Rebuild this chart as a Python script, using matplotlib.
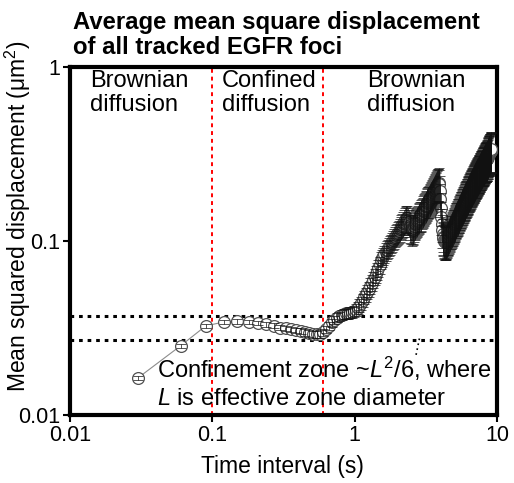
import numpy as np
import matplotlib
matplotlib.use("Agg")
import matplotlib.pyplot as plt

plt.rcParams['font.family'] = ['Liberation Sans', 'DejaVu Sans']
plt.rcParams['mathtext.fontset'] = 'custom'
plt.rcParams['mathtext.rm'] = 'Liberation Sans'
plt.rcParams['mathtext.it'] = 'Liberation Sans:italic'
plt.rcParams['mathtext.bf'] = 'Liberation Sans:bold'

# frame interval of the tracking (s)
frame_time = 0.03

# mean MSD (um^2) per lag, one row = 10 frames (0.3 s)
msd = [
    0.0163, 0.0250, 0.0325, 0.0342, 0.0345, 0.0343, 0.0338, 0.0332, 0.0325, 0.0318,
    0.0314, 0.0310, 0.0306, 0.0302, 0.0298, 0.0294, 0.0291, 0.0290, 0.0292, 0.0298,
    0.0310, 0.0325, 0.0340, 0.0352, 0.0362, 0.0370, 0.0376, 0.0380, 0.0383, 0.0385,
    0.0387, 0.0390, 0.0395, 0.0402, 0.0412, 0.0425, 0.0440, 0.0457, 0.0475, 0.0493,
    0.0512, 0.0532, 0.0553, 0.0575, 0.0598, 0.0622, 0.0647, 0.0672, 0.0698, 0.0725,
    0.0778, 0.0800, 0.0822, 0.0845, 0.0868, 0.0890, 0.0910, 0.0928, 0.0948, 0.0968,
    0.0990, 0.1012, 0.1035, 0.1060, 0.1082, 0.1100, 0.1118, 0.1140, 0.1165, 0.1190,
    0.1215, 0.1240, 0.1262, 0.1290, 0.1320, 0.1345, 0.1360, 0.1350, 0.1320, 0.1280,
    0.1240, 0.1200, 0.1170, 0.1150, 0.1160, 0.1185, 0.1215, 0.1245, 0.1270, 0.1290,
    0.1305, 0.1320, 0.1340, 0.1365, 0.1385, 0.1400, 0.1410, 0.1430, 0.1455, 0.1480,
    0.1505, 0.1530, 0.1555, 0.1580, 0.1600, 0.1620, 0.1645, 0.1670, 0.1690, 0.1705,
    0.1720, 0.1740, 0.1765, 0.1790, 0.1815, 0.1840, 0.1865, 0.1890, 0.1915, 0.1940,
    0.1965, 0.1990, 0.2015, 0.2040, 0.2065, 0.2090, 0.2110, 0.2130, 0.2150, 0.2160,
    0.2120, 0.1950, 0.1750, 0.1550, 0.1380, 0.1250, 0.1160, 0.1100, 0.1060, 0.1040,
    0.1020, 0.1005, 0.0995, 0.0990, 0.0992, 0.1000, 0.1010, 0.1022, 0.1035, 0.1048,
    0.1060, 0.1072, 0.1085, 0.1098, 0.1110, 0.1122, 0.1135, 0.1148, 0.1162, 0.1175,
    0.1188, 0.1200, 0.1212, 0.1225, 0.1238, 0.1250, 0.1265, 0.1280, 0.1295, 0.1310,
    0.1325, 0.1340, 0.1355, 0.1368, 0.1380, 0.1395, 0.1410, 0.1425, 0.1440, 0.1455,
    0.1470, 0.1485, 0.1500, 0.1515, 0.1530, 0.1545, 0.1560, 0.1575, 0.1590, 0.1605,
    0.1620, 0.1635, 0.1650, 0.1665, 0.1680, 0.1695, 0.1710, 0.1725, 0.1740, 0.1755,
    0.1770, 0.1785, 0.1800, 0.1815, 0.1830, 0.1845, 0.1860, 0.1875, 0.1890, 0.1905,
    0.1920, 0.1935, 0.1950, 0.1965, 0.1980, 0.1995, 0.2010, 0.2025, 0.2040, 0.2055,
    0.2070, 0.2085, 0.2100, 0.2115, 0.2130, 0.2145, 0.2160, 0.2175, 0.2190, 0.2205,
    0.2220, 0.2235, 0.2250, 0.2265, 0.2280, 0.2295, 0.2310, 0.2325, 0.2340, 0.2355,
    0.2370, 0.2385, 0.2400, 0.2415, 0.2430, 0.2445, 0.2460, 0.2475, 0.2490, 0.2505,
    0.2520, 0.2535, 0.2550, 0.2565, 0.2580, 0.2595, 0.2610, 0.2625, 0.2640, 0.2655,
    0.2670, 0.2690, 0.2710, 0.2730, 0.2745, 0.2760, 0.2770, 0.2780, 0.2790, 0.2800,
    0.2815, 0.2830, 0.2850, 0.2870, 0.2890, 0.2905, 0.2920, 0.2930, 0.2935, 0.2940,
    0.2950, 0.2965, 0.2980, 0.3000, 0.3020, 0.3045, 0.3070, 0.3095, 0.3120, 0.3140,
    0.3160, 0.3180, 0.3200, 0.3215, 0.3230, 0.3245, 0.3260, 0.3275, 0.3290, 0.3305,
    0.3320, 0.3335, 0.3350, 0.3360,
]

# standard error of the mean (um^2)
sem = [
    0.0005, 0.0007, 0.0009, 0.0010, 0.0010, 0.0010, 0.0010, 0.0010, 0.0011, 0.0011,
    0.0011, 0.0011, 0.0012, 0.0012, 0.0012, 0.0013, 0.0013, 0.0014, 0.0014, 0.0015,
    0.0016, 0.0017, 0.0018, 0.0019, 0.0021, 0.0022, 0.0024, 0.0025, 0.0026, 0.0027,
    0.0028, 0.0029, 0.0030, 0.0032, 0.0034, 0.0036, 0.0038, 0.0040, 0.0043, 0.0046,
    0.0050, 0.0053, 0.0057, 0.0060, 0.0064, 0.0067, 0.0070, 0.0074, 0.0078, 0.0082,
    0.0086, 0.0090, 0.0093, 0.0097, 0.0100, 0.0104, 0.0107, 0.0110, 0.0114, 0.0117,
    0.0125, 0.0130, 0.0136, 0.0142, 0.0148, 0.0154, 0.0160, 0.0166, 0.0172, 0.0178,
    0.0190, 0.0198, 0.0205, 0.0213, 0.0222, 0.0230, 0.0236, 0.0238, 0.0236, 0.0232,
    0.0226, 0.0220, 0.0215, 0.0212, 0.0215, 0.0221, 0.0228, 0.0235, 0.0241, 0.0246,
    0.0250, 0.0254, 0.0259, 0.0265, 0.0270, 0.0274, 0.0277, 0.0282, 0.0288, 0.0294,
    0.0301, 0.0307, 0.0313, 0.0319, 0.0324, 0.0329, 0.0335, 0.0341, 0.0346, 0.0350,
    0.0355, 0.0360, 0.0366, 0.0372, 0.0378, 0.0384, 0.0390, 0.0396, 0.0402, 0.0408,
    0.0414, 0.0420, 0.0426, 0.0432, 0.0438, 0.0444, 0.0449, 0.0454, 0.0458, 0.0461,
    0.0452, 0.0416, 0.0374, 0.0331, 0.0295, 0.0268, 0.0249, 0.0236, 0.0228, 0.0224,
    0.0220, 0.0217, 0.0215, 0.0214, 0.0215, 0.0217, 0.0220, 0.0223, 0.0226, 0.0229,
    0.0233, 0.0236, 0.0239, 0.0242, 0.0245, 0.0248, 0.0251, 0.0254, 0.0258, 0.0261,
    0.0264, 0.0267, 0.0270, 0.0273, 0.0277, 0.0280, 0.0284, 0.0288, 0.0292, 0.0296,
    0.0300, 0.0304, 0.0308, 0.0312, 0.0316, 0.0320, 0.0324, 0.0328, 0.0332, 0.0336,
    0.0340, 0.0344, 0.0348, 0.0352, 0.0356, 0.0360, 0.0364, 0.0368, 0.0372, 0.0376,
    0.0380, 0.0384, 0.0388, 0.0392, 0.0396, 0.0400, 0.0404, 0.0408, 0.0412, 0.0416,
    0.0420, 0.0424, 0.0428, 0.0432, 0.0436, 0.0440, 0.0444, 0.0448, 0.0452, 0.0456,
    0.0460, 0.0464, 0.0468, 0.0472, 0.0476, 0.0480, 0.0484, 0.0488, 0.0492, 0.0496,
    0.0500, 0.0504, 0.0508, 0.0512, 0.0516, 0.0520, 0.0524, 0.0528, 0.0532, 0.0536,
    0.0540, 0.0544, 0.0548, 0.0552, 0.0556, 0.0560, 0.0564, 0.0568, 0.0572, 0.0576,
    0.0580, 0.0584, 0.0588, 0.0592, 0.0596, 0.0600, 0.0604, 0.0608, 0.0612, 0.0616,
    0.0620, 0.0624, 0.0628, 0.0632, 0.0636, 0.0640, 0.0644, 0.0648, 0.0652, 0.0656,
    0.0660, 0.0665, 0.0670, 0.0675, 0.0680, 0.0685, 0.0690, 0.0695, 0.0700, 0.0705,
    0.0710, 0.0715, 0.0720, 0.0725, 0.0730, 0.0735, 0.0740, 0.0745, 0.0750, 0.0755,
    0.0760, 0.0765, 0.0770, 0.0775, 0.0780, 0.0785, 0.0790, 0.0795, 0.0800, 0.0805,
    0.0810, 0.0815, 0.0820, 0.0825, 0.0830, 0.0835, 0.0840, 0.0845, 0.0850, 0.0855,
    0.0860, 0.0865, 0.0870, 0.0875,
]

lag = frame_time * np.arange(1, len(msd) + 1)

# regime boundaries (s) and confinement band (um^2)
regime_bounds = [0.1, 0.6]
confinement_band = [0.027, 0.037]
regime_labels = ["Brownian\ndiffusion", "Confined\ndiffusion", "Brownian\ndiffusion"]
regime_label_x = [0.047, 0.356, 0.696]

x_ticks = [0.01, 0.1, 1, 10]
x_labels = ["0.01", "0.1", "1", "10"]
y_ticks = [0.01, 0.1, 1]
y_labels = ["0.01", "0.1", "1"]

fig = plt.figure(figsize=(5.14, 4.83), dpi=100)
ax = fig.add_axes([0.136, 0.141, 0.831, 0.720])
ax.set_xscale("log")
ax.set_yscale("log")
ax.set_xlim(0.01, 10)
ax.set_ylim(0.01, 1)

ax.plot(lag, msd, color="#8c8c8c", lw=0.8, zorder=2)
ax.plot(lag, msd, "o", ms=8.5, mfc="white", mec="#505050", mew=0.9, zorder=3)
ax.errorbar(lag, msd, yerr=sem, fmt="none", ecolor="#111111", elinewidth=0.5,
            capsize=3.5, capthick=0.5, zorder=4)

for xb in regime_bounds:
    ax.axvline(xb, color="#ff0000", ls=(0, (2, 2)), lw=1.4, zorder=1)
for yb in confinement_band:
    ax.axhline(yb, color="black", ls=(0, (1.2, 1.6)), lw=2.2, zorder=1)

for lbl, xp in zip(regime_labels, regime_label_x):
    ax.text(xp, 0.993, lbl, transform=ax.transAxes, ha="left", va="top",
            fontsize=17, linespacing=1.12)

ax.text(0.204, 0.106, r"Confinement zone ~$\mathit{L}^2$/6, where", transform=ax.transAxes,
        ha="left", va="baseline", fontsize=17)
ax.text(0.204, 0.029, r"$\mathit{L}$ is effective zone diameter", transform=ax.transAxes,
        ha="left", va="baseline", fontsize=17)
ax.plot([2.85, 2.68], [0.0275, 0.0215], color="black", ls=(0, (1, 2)), lw=1.2, zorder=1)

ax.set_xticks(x_ticks, labels=x_labels)
ax.set_yticks(y_ticks, labels=y_labels)
ax.minorticks_off()
ax.tick_params(which="major", direction="out", length=5, width=1.5, labelsize=15.5, pad=2)
for sp in ax.spines.values():
    sp.set_linewidth(3)

fig.text(73 / 514, 1 - 11 / 483, "Average mean square displacement\nof all tracked EGFR foci",
         ha="left", va="top", fontsize=17.2, fontweight="bold", linespacing=1.12)
fig.text(18 / 514, 1 - 216 / 483, r"Mean squared displacement (μm$^2$)", rotation=90,
         ha="center", va="center", fontsize=16.5)
fig.text(282 / 514, 1 - 466 / 483, "Time interval (s)", ha="center", va="center", fontsize=16.5)

fig.savefig("out.png", dpi=100)
